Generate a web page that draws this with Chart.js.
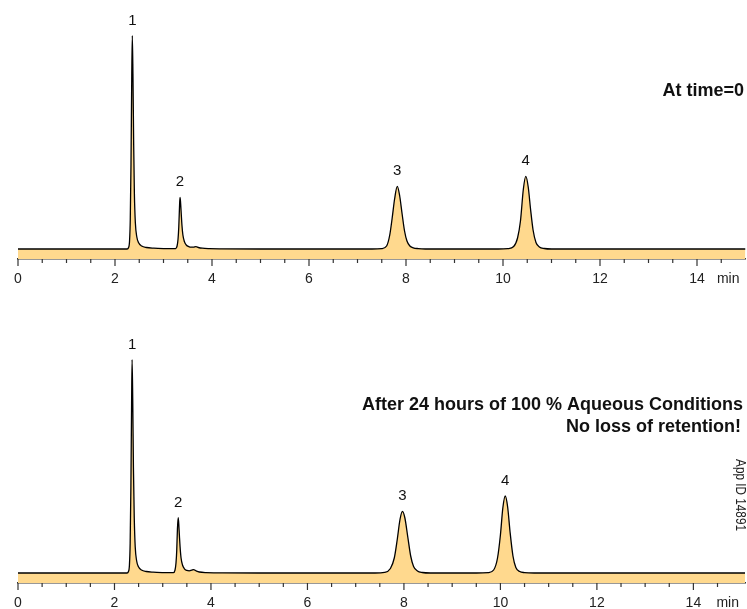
<!DOCTYPE html>
<html>
<head>
<meta charset="utf-8">
<script src="https://cdn.jsdelivr.net/npm/chart.js@4/dist/chart.umd.min.js"></script>
<style>
  html, body { margin: 0; padding: 0; background: #fff; width: 747px; height: 609px; overflow: hidden; }
  .panel { position: absolute; left: 0; width: 747px; }
  #panelA { top: 0; height: 300px; }
  #panelB { top: 300px; height: 309px; }
</style>
</head>
<body>
<div class="panel" id="panelA"><canvas id="chartA" width="747" height="300"></canvas></div>
<div class="panel" id="panelB"><canvas id="chartB" width="747" height="309"></canvas></div>
<script>
// Chromatogram at time = 0 (retention time in min, detector signal in arbitrary units)
const timeInitial = [
  0, 2.25, 2.28, 2.30, 2.315, 2.33, 2.345, 2.357, 2.37, 2.385, 2.40, 2.42, 2.45, 2.49, 2.55, 2.65, 2.8, 3.0,
  3.2, 3.25, 3.28, 3.30, 3.315, 3.33, 3.34, 3.35, 3.365, 3.38, 3.40, 3.43, 3.47, 3.52, 3.57, 3.62, 3.67, 3.72, 3.8, 3.95, 4.2, 5.0,
  7.3, 7.5, 7.6, 7.665, 7.715, 7.765, 7.82, 7.87, 7.92, 7.97, 8.02, 8.08, 8.15, 8.25, 8.4,
  9.9, 10.1, 10.22, 10.3, 10.36, 10.42, 10.47, 10.52, 10.57, 10.62, 10.68, 10.75, 10.85, 11.0, 15.0
];
const signalInitial = [
  0, 0, 1.5, 8, 30, 85, 170, 213.3, 175, 105, 55, 26, 12, 6, 3, 1.5, 0.8, 0.4,
  0.3, 0.4, 3, 10, 22, 42, 51.6, 48, 36, 24, 14, 7.5, 4, 2.4, 1.8, 1.9, 2.4, 1.5, 0.8, 0.4, 0.2, 0,
  0, 0.4, 3, 14, 31, 50, 62.6, 53, 35, 18, 8, 3, 1.2, 0.4, 0,
  0, 0.4, 2.5, 11, 28, 60, 72.6, 62, 39, 19, 6.5, 2, 0.5, 0, 0
];

// Chromatogram after 24 hours of 100 % aqueous conditions
const timeAged = [
  0, 2.26, 2.29, 2.31, 2.325, 2.34, 2.355, 2.365, 2.378, 2.393, 2.41, 2.43, 2.46, 2.50, 2.56, 2.66, 2.8, 3.0,
  3.15, 3.22, 3.255, 3.275, 3.29, 3.305, 3.32, 3.33, 3.345, 3.36, 3.38, 3.41, 3.45, 3.50, 3.55, 3.60, 3.64, 3.69, 3.76, 3.9, 4.2, 5.0,
  7.4, 7.6, 7.72, 7.8, 7.86, 7.92, 7.97, 8.02, 8.08, 8.14, 8.2, 8.28, 8.38, 8.55,
  9.5, 9.75, 9.86, 9.94, 10.0, 10.05, 10.10, 10.15, 10.20, 10.26, 10.32, 10.4, 10.5, 10.7, 15.07
];
const signalAged = [
  0, 0, 1.5, 8, 30, 85, 170, 213.4, 175, 105, 55, 26, 12, 6, 3, 1.5, 0.8, 0.4,
  0.3, 0.3, 3, 10, 22, 44, 55.4, 51, 38, 26, 15, 8, 4.2, 2.6, 2.2, 2.8, 3.4, 2.2, 1, 0.4, 0.2, 0,
  0, 0.6, 4.5, 15, 33, 54, 61.7, 55, 36, 17, 6.5, 2, 0.5, 0,
  0, 0.4, 3, 15, 38, 65, 77, 66, 41, 17, 5.5, 1.5, 0.4, 0, 0
];

// Peak numbering and apex retention times
const peakNames = ['1', '2', '3', '4'];
const peakTimesInitial = [2.357, 3.34, 7.82, 10.47];
const peakTimesAged = [2.365, 3.32, 7.97, 10.10];

// Labelled axis ticks (minutes)
const majorTicks = [0, 2, 4, 6, 8, 10, 12, 14];
const axisUnit = 'min';

const FILL = '#FFD98E';
const LINE = '#000000';
const AXIS = '#333333';
const NARROW_FAMILY = "'Liberation Sans Narrow', 'Arial Narrow'";
const SANS = "'Liberation Sans', Arial, Helvetica, sans-serif";

// Use a narrow face for the axis text when one is installed
const probe = document.createElement('canvas').getContext('2d');
probe.font = "14px " + NARROW_FAMILY + ", monospace";
const wNarrow = probe.measureText('14891 App ID').width;
probe.font = "14px monospace";
const hasNarrow = Math.abs(wNarrow - probe.measureText('14891 App ID').width) > 0.5;
const AXIS_FONT = hasNarrow ? NARROW_FAMILY + ", " + SANS : SANS;
const AXIS_SIZE = 14;

// Short minor ticks every 0.5 min, longer ones at the labelled minutes
const tickMarks = {
  id: 'tickMarks',
  afterDraw(chart) {
    const s = chart.scales.x;
    const ctx = chart.ctx;
    const y0 = chart.chartArea.bottom;
    ctx.save();
    ctx.strokeStyle = AXIS;
    ctx.lineWidth = 1.2;
    s.ticks.forEach(t => {
      if (t.value > 14.5 + 1e-9) return;
      const x = s.getPixelForValue(t.value);
      const major = majorTicks.some(m => Math.abs(m - t.value) < 1e-9);
      ctx.beginPath();
      ctx.moveTo(x, y0);
      ctx.lineTo(x, y0 + (major ? 7 : 4));
      ctx.stroke();
    });
    ctx.restore();
  }
};

// Peak numbers above each apex, the axis unit and the panel captions
const annotations = {
  id: 'annotations',
  afterDraw(chart, args, opts) {
    const ctx = chart.ctx;
    const sx = chart.scales.x, sy = chart.scales.y;
    const pts = chart.data.datasets[0].data;
    ctx.save();
    ctx.fillStyle = '#111';
    ctx.font = '15px ' + SANS;
    ctx.textAlign = 'center';
    ctx.textBaseline = 'alphabetic';
    opts.peakTimes.forEach((t, i) => {
      const p = pts.find(d => Math.abs(d.x - t) < 1e-9);
      const x = sx.getPixelForValue(p.x);
      const y = sy.getPixelForValue(p.y);
      ctx.fillText(peakNames[i], x, y - 11);
    });

    ctx.font = AXIS_SIZE + 'px ' + AXIS_FONT;
    ctx.textAlign = 'right';
    ctx.fillStyle = '#222';
    ctx.fillText(axisUnit, sx.right - 6, chart.chartArea.bottom + 24);

    ctx.fillStyle = '#111';
    ctx.font = 'bold 18px ' + SANS;
    ctx.textAlign = 'right';
    (opts.captions || []).forEach(c => ctx.fillText(c.text, c.x, c.y));

    (opts.vertical || []).forEach(c => {
      ctx.save();
      ctx.translate(c.x, c.y);
      ctx.rotate(Math.PI / 2);
      ctx.font = '14px ' + AXIS_FONT;
      if (!hasNarrow) ctx.scale(0.84, 1);
      ctx.textAlign = 'center';
      ctx.textBaseline = 'middle';
      ctx.fillStyle = '#222';
      ctx.fillText(c.text, 0, 0);
      ctx.restore();
    });
    ctx.restore();
  }
};

function buildChart(id, time, signal, peakTimes, cfg) {
  const points = time.map((t, i) => ({ x: t, y: signal[i] }));
  return new Chart(document.getElementById(id), {
    type: 'line',
    data: {
      datasets: [{
        data: points,
        borderColor: LINE,
        borderWidth: 1.3,
        backgroundColor: FILL,
        fill: 'start',
        pointRadius: 0,
        cubicInterpolationMode: 'monotone'
      }]
    },
    options: {
      responsive: false,
      animation: false,
      events: [],
      layout: { padding: { left: 18, right: cfg.padRight, top: cfg.padTop, bottom: cfg.padBottom } },
      plugins: {
        legend: { display: false },
        tooltip: { enabled: false },
        annotations: { peakTimes: peakTimes, captions: cfg.captions, vertical: cfg.vertical }
      },
      scales: {
        x: {
          type: 'linear',
          min: 0,
          max: cfg.xMax,
          // tick marks are drawn by the tickMarks plugin; tickLength only spaces the labels
          grid: { display: false, drawTicks: true, tickLength: 12 },
          border: { display: true, color: AXIS, width: 1.5 },
          ticks: {
            stepSize: 0.5,
            includeBounds: false,
            autoSkip: false,
            maxRotation: 0,
            padding: 0,
            color: '#222',
            font: { family: AXIS_FONT, size: AXIS_SIZE },
            callback: v => majorTicks.some(m => Math.abs(m - v) < 1e-9) ? String(v) : ''
          },
          afterFit: s => { s.height = 24; }
        },
        y: { display: false, min: -10, max: 219 }
      }
    },
    plugins: [tickMarks, annotations]
  });
}

buildChart('chartA', timeInitial, signalInitial, peakTimesInitial, {
  xMax: 15, padRight: 1.5, padTop: 30, padBottom: 17,
  captions: [{ text: 'At time=0', x: 744, y: 96 }]
});

buildChart('chartB', timeAged, signalAged, peakTimesAged, {
  xMax: 15.07, padRight: 2, padTop: 54, padBottom: 2,
  captions: [
    { text: 'After 24 hours of 100 % Aqueous Conditions', x: 743, y: 110 },
    { text: 'No loss of retention!', x: 741, y: 132 }
  ],
  vertical: [{ text: 'App ID 14891', x: 740, y: 195 }]
});
</script>
</body>
</html>
